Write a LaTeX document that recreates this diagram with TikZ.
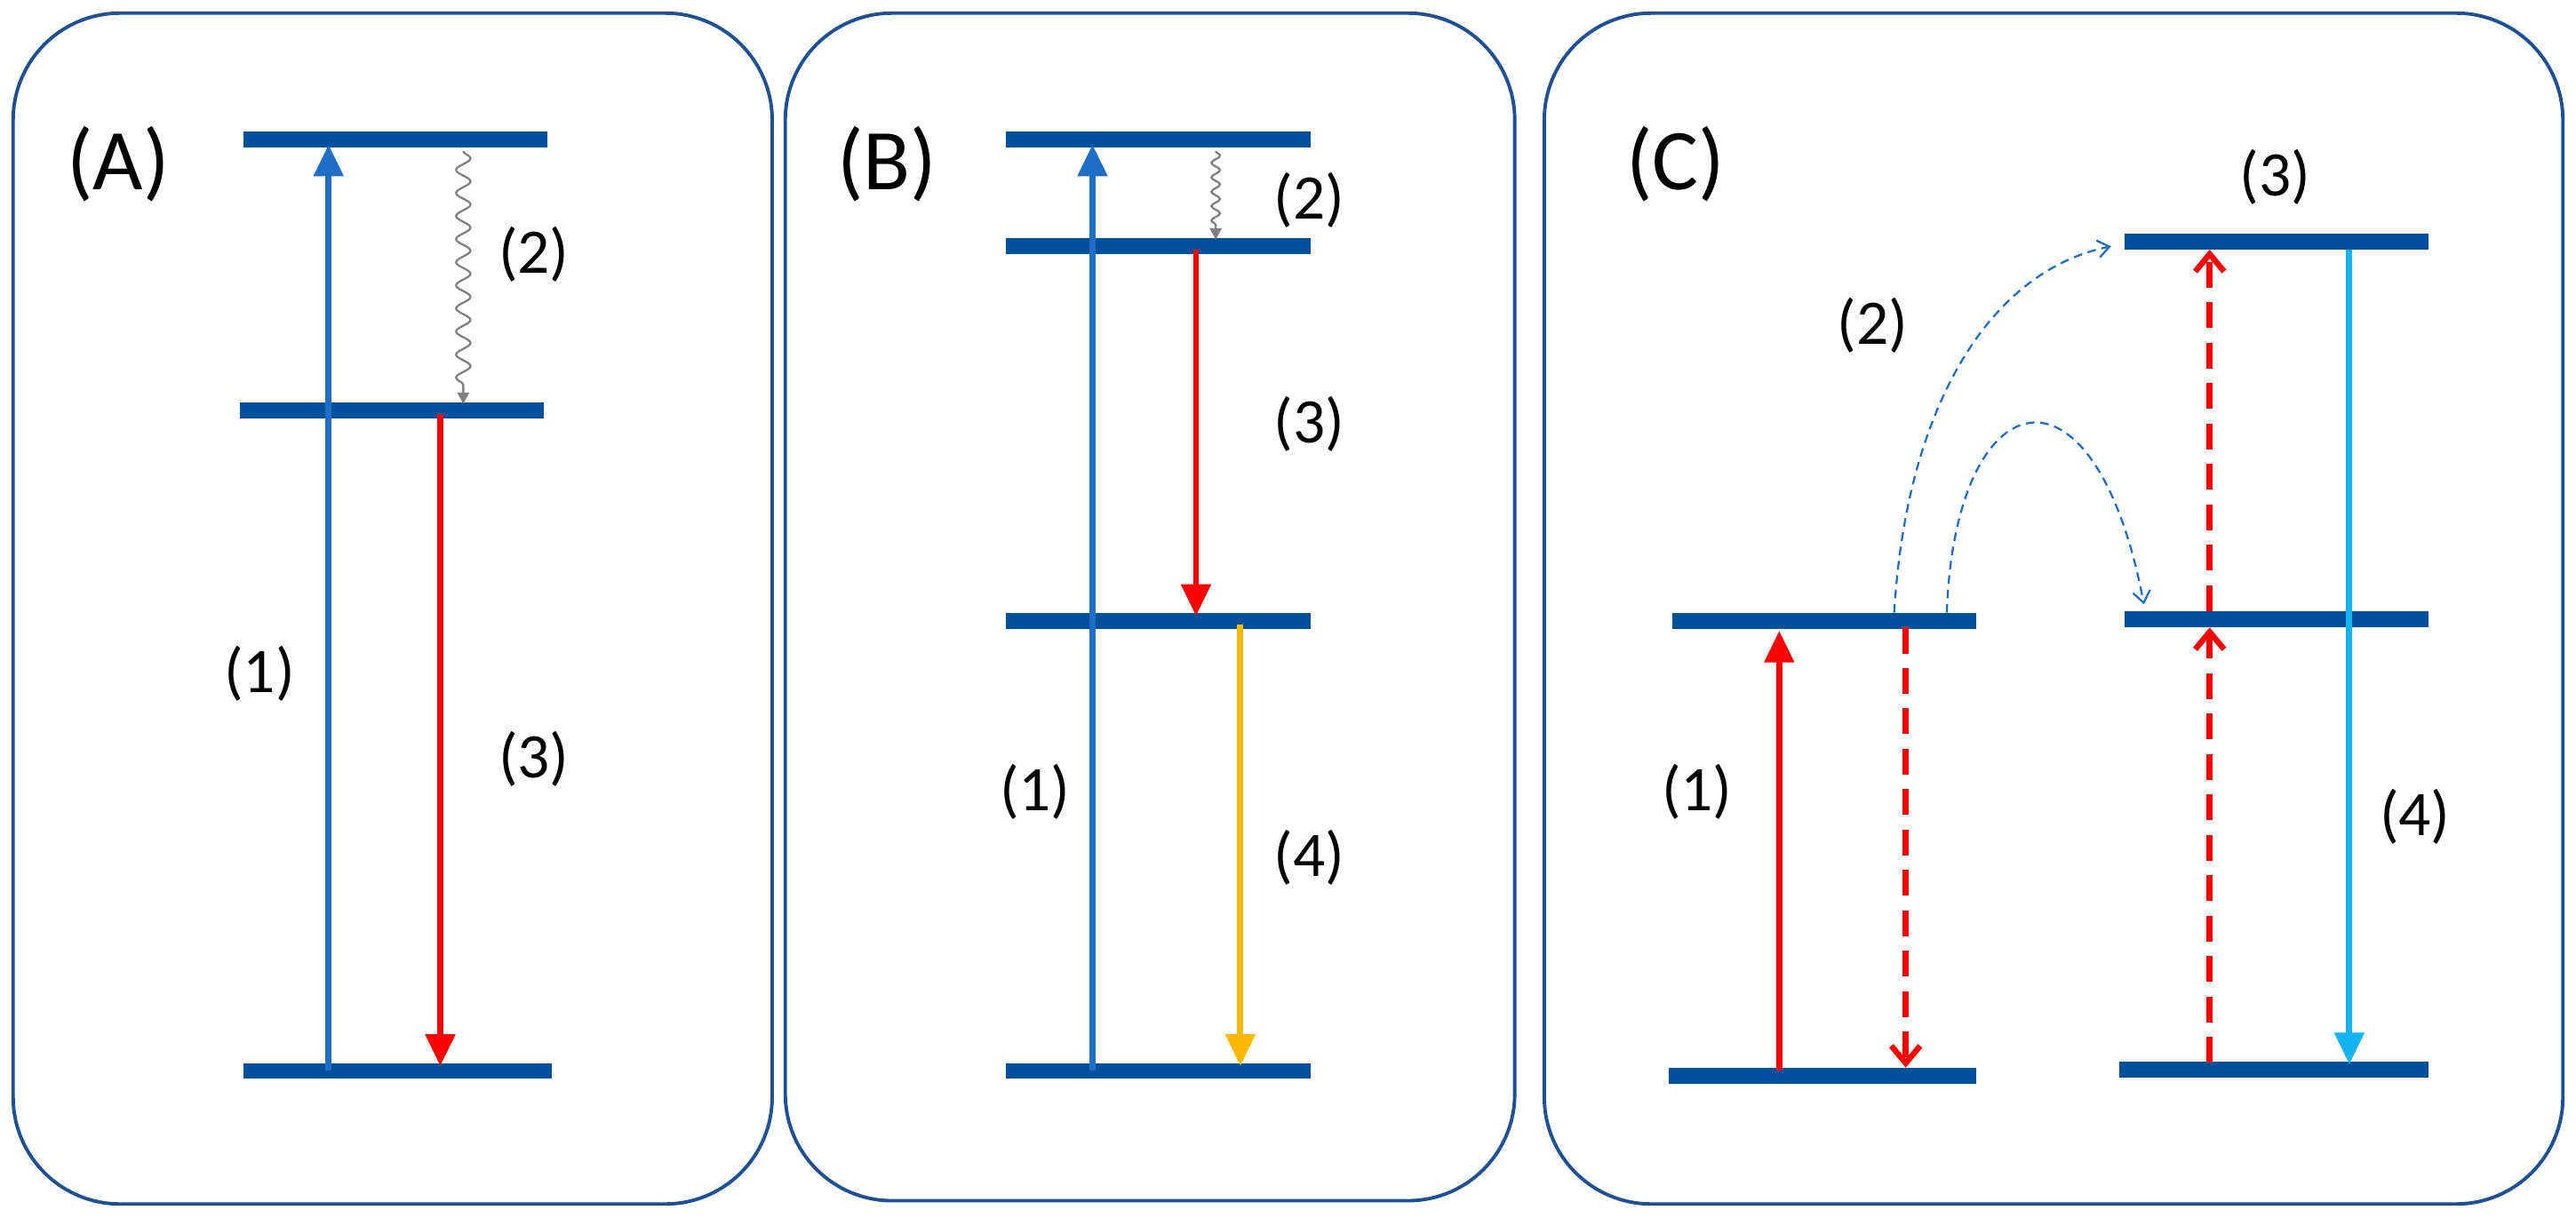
\documentclass[tikz,border=0pt]{standalone}
\usepackage{fontspec}
\setmainfont{Carlito}
\usetikzlibrary{arrows.meta,decorations.pathmorphing}
\begin{document}
\begin{tikzpicture}[x=0.02cm,y=-0.02cm,
 panel/.style={draw=frame,line width=1.2pt,rounded corners=1.3cm},
 lev/.style={draw=lvl,line width=5.5pt},
 lab/.style={font=\fontsize{22}{24}\selectfont},
 big/.style={font=\fontsize{30}{32}\selectfont},
 up/.style={line width=2.1pt,-{Triangle[length=11pt,width=10pt]}},
 wav/.style={draw=gray,line width=0.7pt,decorate,decoration={snake,amplitude=2.5pt,segment length=8pt,post length=4pt},-{Triangle[length=4pt,width=4pt]}},
 dsh/.style={draw=red,line width=2pt,dash pattern=on 9pt off 5pt,-{Straight Barb[length=6pt,width=10pt]}},
 cur/.style={draw=bl,line width=0.7pt,dash pattern=on 3pt off 2pt,-{Straight Barb[length=4pt,width=6pt]}}]
\definecolor{frame}{RGB}{30,80,150}
\definecolor{lvl}{RGB}{0,80,155}
\definecolor{bl}{RGB}{30,110,200}
\definecolor{cy}{RGB}{20,180,240}
\definecolor{yl}{RGB}{255,185,0}
\useasboundingbox (0,0) rectangle (1568,741.5);
\draw[panel] (8,8) rectangle (470,733);
\draw[panel] (478,8) rectangle (922,731);
\draw[panel] (940,8) rectangle (1560,733);
% A
\coordinate (a1) at (148,85); \coordinate (a2) at (333,85);
\coordinate (a3) at (146,250); \coordinate (a4) at (331,250);
\coordinate (a5) at (148,652); \coordinate (a6) at (336,652);
\draw[lev] (a1)--(a2); \draw[lev] (a3)--(a4); \draw[lev] (a5)--(a6);
\coordinate (ab) at (200,652); \coordinate (at) at (200,88);
\draw[up,draw=bl,fill=bl] (ab)--(at);
\coordinate (aw1) at (282,92); \coordinate (aw2) at (282,246);
\draw[wav] (aw1)--(aw2);
\coordinate (ar1) at (268,252); \coordinate (ar2) at (268,649);
\draw[up,draw=red,fill=red] (ar1)--(ar2);
\node[big] (tA) at (72,100) {(A)};
\node[lab] (A2) at (325,155) {(2)};
\node[lab] (A1) at (158,410) {(1)};
\node[lab] (A3) at (325,462) {(3)};
% B
\coordinate (b1) at (612,85); \coordinate (b2) at (798,85);
\coordinate (b3) at (612,150); \coordinate (b4) at (798,150);
\coordinate (b5) at (612,378); \coordinate (b6) at (798,378);
\coordinate (b7) at (612,652); \coordinate (b8) at (798,652);
\draw[lev] (b1)--(b2); \draw[lev] (b3)--(b4); \draw[lev] (b5)--(b6); \draw[lev] (b7)--(b8);
\coordinate (bb) at (665,652); \coordinate (bt) at (665,88);
\draw[up,draw=bl,fill=bl] (bb)--(bt);
\coordinate (bw1) at (740,92); \coordinate (bw2) at (740,146);
\draw[wav,decoration={snake,amplitude=1.5pt,segment length=5pt,post length=3pt}] (bw1)--(bw2);
\coordinate (br1) at (728,152); \coordinate (br2) at (728,375);
\draw[up,draw=red,fill=red] (br1)--(br2);
\coordinate (by1) at (755,380); \coordinate (by2) at (755,649);
\draw[up,draw=yl,fill=yl] (by1)--(by2);
\node[big] (tB) at (540,100) {(B)};
\node[lab] (B2) at (797,122) {(2)};
\node[lab] (B3) at (797,258) {(3)};
\node[lab] (B1) at (630,482) {(1)};
\node[lab] (B4) at (797,522) {(4)};
% C
\coordinate (c1) at (1018,378); \coordinate (c2) at (1203,378);
\coordinate (c3) at (1016,655); \coordinate (c4) at (1203,655);
\coordinate (c5) at (1293,147); \coordinate (c6) at (1478,147);
\coordinate (c7) at (1293,377); \coordinate (c8) at (1478,377);
\coordinate (c9) at (1290,651); \coordinate (c10) at (1478,651);
\draw[lev] (c1)--(c2); \draw[lev] (c3)--(c4); \draw[lev] (c5)--(c6);
\draw[lev] (c7)--(c8); \draw[lev] (c9)--(c10);
\coordinate (cr1) at (1083,652); \coordinate (cr2) at (1083,384);
\draw[up,draw=red,fill=red] (cr1)--(cr2);
\coordinate (cd1) at (1160,382); \coordinate (cd2) at (1160,650);
\draw[dsh] (cd1)--(cd2);
\coordinate (ce1) at (1345,647); \coordinate (ce2) at (1345,382);
\coordinate (ce3) at (1345,372); \coordinate (ce4) at (1345,152);
\draw[dsh] (ce1)--(ce2); \draw[dsh] (ce3)--(ce4);
\coordinate (cc1) at (1430,152); \coordinate (cc2) at (1430,648);
\draw[up,draw=cy,fill=cy] (cc1)--(cc2);
\coordinate (k1) at (1153,373); \coordinate (k2) at (1285,150);
\draw[cur] (k1) .. controls (1160,250) and (1210,165) .. (k2);
\coordinate (k3) at (1185,373); \coordinate (k4) at (1305,368);
\draw[cur] (k3) .. controls (1190,230) and (1275,210) .. (k4);
\node[big] (tC) at (1020,100) {(C)};
\node[lab] (C3) at (1385,108) {(3)};
\node[lab] (C2) at (1140,198) {(2)};
\node[lab] (C1) at (1033,482) {(1)};
\node[lab] (C4) at (1470,497) {(4)};
\end{tikzpicture}
\end{document}
